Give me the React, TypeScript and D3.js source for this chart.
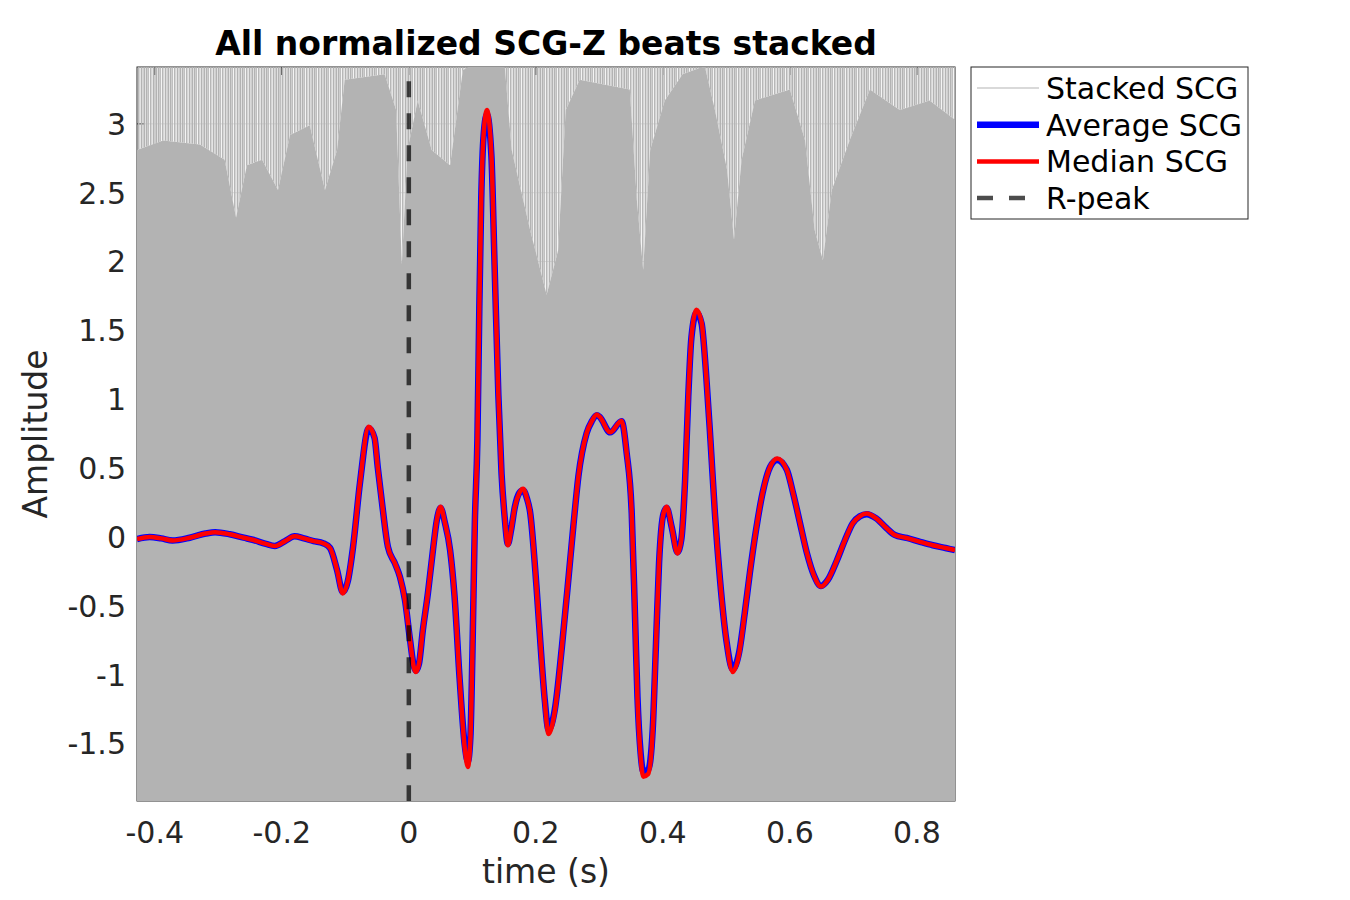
import { area, curveLinear, curveMonotoneX, line, scaleLinear } from "d3";

const W = 1350;
const H = 900;
const M = { top: 67, right: 395, bottom: 99, left: 137 };

// time axis of the traced average / median beat (s)
const beatTime = [
  -0.428, -0.408, -0.39, -0.372, -0.345, -0.32, -0.305, -0.282, -0.26, -0.246,
  -0.225, -0.211, -0.195, -0.18, -0.165, -0.15, -0.135, -0.124, -0.113, -0.104,
  -0.096, -0.088, -0.077, -0.063, -0.054, -0.049, -0.041, -0.033, -0.022, -0.014,
  -0.006, 0.002, 0.008, 0.011, 0.016, 0.022, 0.03, 0.038, 0.044, 0.05,
  0.057, 0.065, 0.072, 0.08, 0.088, 0.093, 0.097, 0.1, 0.104, 0.108,
  0.111, 0.114, 0.118, 0.123, 0.13, 0.135, 0.141, 0.146, 0.151, 0.156,
  0.161, 0.167, 0.174, 0.18, 0.186, 0.191, 0.201, 0.209, 0.214, 0.22,
  0.23, 0.241, 0.254, 0.259, 0.267, 0.28, 0.288, 0.296, 0.301, 0.317,
  0.335, 0.343, 0.351, 0.356, 0.36, 0.365, 0.369, 0.377, 0.384, 0.389,
  0.394, 0.401, 0.406, 0.414, 0.423, 0.429, 0.435, 0.44, 0.445, 0.453,
  0.461, 0.468, 0.475, 0.482, 0.49, 0.5, 0.51, 0.52, 0.529, 0.537,
  0.547, 0.557, 0.569, 0.58, 0.595, 0.605, 0.616, 0.627, 0.638, 0.649,
  0.66, 0.674, 0.687, 0.699, 0.71, 0.721, 0.736, 0.752, 0.765, 0.784,
  0.805, 0.825, 0.845, 0.86,
];

const averageScg = [
  -0.015, 0.0, -0.01, -0.025, -0.005, 0.025, 0.035, 0.02, -0.005, -0.02,
  -0.05, -0.065, -0.03, 0.005, -0.01, -0.03, -0.045, -0.08, -0.24, -0.4,
  -0.32, -0.08, 0.39, 0.79, 0.72, 0.51, 0.2, -0.07, -0.19, -0.29,
  -0.46, -0.75, -0.94, -0.97, -0.92, -0.68, -0.41, -0.095, 0.12, 0.21,
  0.1, -0.095, -0.43, -1.03, -1.51, -1.63, -1.45, -0.88, 0.11, 0.71,
  1.66, 2.45, 2.93, 3.07, 2.77, 1.98, 1.03, 0.46, 0.14, -0.05,
  0.05, 0.22, 0.32, 0.34, 0.28, 0.18, -0.36, -0.89, -1.18, -1.4,
  -1.25, -0.8, -0.17, 0.075, 0.44, 0.755, 0.84, 0.885, 0.87, 0.76,
  0.84, 0.61, 0.17, -0.55, -1.16, -1.57, -1.7, -1.69, -1.4, -0.8,
  -0.19, 0.17, 0.21, 0.07, -0.11, -0.02, 0.41, 1.02, 1.45, 1.63,
  1.55, 1.19, 0.7, 0.17, -0.31, -0.75, -0.96, -0.84, -0.55, -0.26,
  0.06, 0.32, 0.51, 0.56, 0.49, 0.32, 0.1, -0.12, -0.28, -0.355,
  -0.31, -0.17, -0.02, 0.1, 0.15, 0.165, 0.135, 0.065, 0.015, -0.007,
  -0.035, -0.06, -0.08, -0.095,
];

const medianScg = [
  -0.015, 0.0, -0.01, -0.025, -0.005, 0.025, 0.035, 0.02, -0.005, -0.02,
  -0.05, -0.065, -0.03, 0.005, -0.01, -0.03, -0.045, -0.08, -0.24, -0.41,
  -0.32, -0.08, 0.39, 0.8, 0.72, 0.51, 0.2, -0.07, -0.19, -0.29,
  -0.46, -0.75, -0.95, -0.98, -0.92, -0.68, -0.41, -0.095, 0.12, 0.22,
  0.1, -0.095, -0.43, -1.03, -1.53, -1.67, -1.46, -0.88, 0.11, 0.71,
  1.66, 2.45, 2.94, 3.1, 2.78, 1.98, 1.03, 0.46, 0.14, -0.06,
  0.05, 0.22, 0.32, 0.35, 0.28, 0.18, -0.36, -0.89, -1.19, -1.43,
  -1.26, -0.8, -0.17, 0.075, 0.44, 0.755, 0.84, 0.89, 0.87, 0.76,
  0.845, 0.61, 0.17, -0.55, -1.17, -1.59, -1.74, -1.72, -1.41, -0.8,
  -0.19, 0.17, 0.22, 0.07, -0.12, -0.02, 0.41, 1.02, 1.45, 1.65,
  1.56, 1.19, 0.7, 0.17, -0.31, -0.75, -0.98, -0.85, -0.55, -0.26,
  0.06, 0.32, 0.51, 0.57, 0.49, 0.32, 0.1, -0.12, -0.28, -0.36,
  -0.31, -0.17, -0.02, 0.1, 0.15, 0.17, 0.135, 0.065, 0.015, -0.007,
  -0.035, -0.06, -0.08, -0.095,
];

// where the stack of individual beats stops being solid grey (s, amplitude)
const stackTime = [
  -0.428, -0.387, -0.329, -0.29, -0.272, -0.255, -0.231, -0.206, -0.187, -0.156,
  -0.132, -0.113, -0.101, -0.038, -0.02, -0.011, -0.002, 0.014, 0.036, 0.065,
  0.085, 0.096, 0.151, 0.162, 0.191, 0.217, 0.235, 0.247, 0.269, 0.348,
  0.359, 0.369, 0.38, 0.403, 0.431, 0.466, 0.482, 0.501, 0.512, 0.524,
  0.545, 0.6, 0.624, 0.639, 0.652, 0.666, 0.694, 0.726, 0.773, 0.82, 0.86,
];
const stackSolidTop = [
  2.81, 2.88, 2.85, 2.74, 2.32, 2.7, 2.74, 2.52, 2.92, 2.99,
  2.52, 2.81, 3.32, 3.36, 3.1, 1.98, 2.81, 3.17, 2.81, 2.7,
  3.39, 3.42, 3.42, 2.81, 2.23, 1.76, 2.08, 3.1, 3.32, 3.25,
  2.45, 1.94, 2.81, 3.17, 3.36, 3.42, 3.1, 2.67, 2.16, 2.74,
  3.17, 3.25, 2.88, 2.23, 2.01, 2.52, 2.88, 3.25, 3.1, 3.17, 3.03,
];

const xDomain = [-0.428, 0.86];
const yDomain = [-1.917, 3.413];
const xTicks = [-0.4, -0.2, 0, 0.2, 0.4, 0.6, 0.8];
const yTicks = [-1.5, -1, -0.5, 0, 0.5, 1, 1.5, 2, 2.5, 3];
const rPeakTime = 0;
const rPeakSpan = [-1.917, 3.31];

const legendItems = ["Stacked SCG", "Average SCG", "Median SCG", "R-peak"];

const INK = "#262626";
const STACK = "#b3b3b3";
const FONT = "'DejaVu Sans', sans-serif";

// irregular comb of thin grey beat traces above the solid part of the stack
const combOffsets = [0.7, 2.5, 4.1, 6.4, 7.9, 9.7, 11.3];
const combWidths = [1.4, 1.0, 1.5, 1.1, 0.9, 1.4, 0.8];

export default function App() {
  const x = scaleLinear().domain(xDomain).range([M.left, W - M.right]);
  const y = scaleLinear().domain(yDomain).range([H - M.bottom, M.top]);
  const x0 = M.left;
  const x1 = W - M.right;
  const y0 = M.top;
  const y1 = H - M.bottom;

  const beat = (vals: number[]) =>
    line<number>()
      .x((_, i) => x(beatTime[i]))
      .y((v) => y(v))
      .curve(curveMonotoneX)(vals) ?? "";

  const solidStack =
    area<number>()
      .x((_, i) => x(stackTime[i]))
      .y0(() => y(yDomain[0]))
      .y1((v) => y(v))
      .curve(curveLinear)(stackSolidTop) ?? "";
  const sparseStack =
    area<number>()
      .x((_, i) => x(stackTime[i]))
      .y0(() => y(yDomain[1]))
      .y1((v) => y(v))
      .curve(curveLinear)(stackSolidTop) ?? "";

  const legendX = 971;
  const legendY = 67;
  const rowY = (i: number) => legendY + 21 + i * 36.7;

  return (
    <svg
      width={W}
      height={H}
      viewBox={`0 0 ${W} ${H}`}
      style={{ position: "absolute", left: 0, top: 0, background: "#fff" }}
      fontFamily={FONT}
    >
      <defs>
        <clipPath id="plot">
          <rect x={x0} y={y0} width={x1 - x0} height={y1 - y0} />
        </clipPath>
        <pattern id="beats" width={12} height={10} patternUnits="userSpaceOnUse">
          {combOffsets.map((o, i) => (
            <line key={o} x1={o} x2={o} y1={0} y2={10} stroke={STACK} strokeWidth={combWidths[i]} />
          ))}
        </pattern>
      </defs>

      {/* grid */}
      {xTicks.map((t) => (
        <line key={`gx${t}`} x1={x(t)} x2={x(t)} y1={y0} y2={y1} stroke="#dedede" />
      ))}
      {yTicks.map((t) => (
        <line key={`gy${t}`} x1={x0} x2={x1} y1={y(t)} y2={y(t)} stroke="#dedede" />
      ))}

      {/* axes box and inward ticks */}
      <rect x={x0} y={y0} width={x1 - x0} height={y1 - y0} fill="none" stroke={INK} />
      {xTicks.map((t) => (
        <g key={`tx${t}`} stroke={INK}>
          <line x1={x(t)} x2={x(t)} y1={y1} y2={y1 - 8} />
          <line x1={x(t)} x2={x(t)} y1={y0} y2={y0 + 8} />
        </g>
      ))}
      {yTicks.map((t) => (
        <g key={`ty${t}`} stroke={INK}>
          <line x1={x0} x2={x0 + 8} y1={y(t)} y2={y(t)} />
          <line x1={x1} x2={x1 - 8} y1={y(t)} y2={y(t)} />
        </g>
      ))}

      <g clipPath="url(#plot)">
        <path d={sparseStack} fill="url(#beats)" />
        <path d={solidStack} fill={STACK} />
        <path d={beat(averageScg)} fill="none" stroke="#0000ff" strokeWidth={6.5} strokeLinejoin="round" />
        <path d={beat(medianScg)} fill="none" stroke="#ff0000" strokeWidth={4.5} strokeLinejoin="round" />
        <line
          x1={x(rPeakTime)}
          x2={x(rPeakTime)}
          y1={y(rPeakSpan[1])}
          y2={y(rPeakSpan[0])}
          stroke="#000"
          strokeOpacity={0.7}
          strokeWidth={4.5}
          strokeDasharray="16 16"
        />
      </g>

      {/* tick labels */}
      {xTicks.map((t) => (
        <text key={`lx${t}`} x={x(t)} y={843} textAnchor="middle" fontSize={30} fill={INK}>
          {t}
        </text>
      ))}
      {yTicks.map((t) => (
        <text key={`ly${t}`} x={126} y={y(t)} dy="0.36em" textAnchor="end" fontSize={30} fill={INK}>
          {t}
        </text>
      ))}

      <text x={(x0 + x1) / 2} y={883} textAnchor="middle" fontSize={33} fill={INK}>
        time (s)
      </text>
      <text
        transform={`translate(47, ${(y0 + y1) / 2}) rotate(-90)`}
        textAnchor="middle"
        fontSize={33}
        fill={INK}
      >
        Amplitude
      </text>
      <text x={(x0 + x1) / 2} y={55} textAnchor="middle" fontSize={33} fontWeight="bold" fill="#000">
        All normalized SCG-Z beats stacked
      </text>

      {/* legend */}
      <rect x={legendX} y={legendY} width={277} height={152} fill="#fff" stroke={INK} />
      {legendItems.map((name, i) => {
        const cy = rowY(i);
        const sample =
          i === 0 ? (
            <line x1={977} x2={1039} y1={cy} y2={cy} stroke={STACK} strokeWidth={1} />
          ) : i === 1 ? (
            <line x1={977} x2={1039} y1={cy} y2={cy} stroke="#0000ff" strokeWidth={6.5} />
          ) : i === 2 ? (
            <line x1={977} x2={1039} y1={cy} y2={cy} stroke="#ff0000" strokeWidth={4.5} />
          ) : (
            <line
              x1={977}
              x2={1039}
              y1={cy}
              y2={cy}
              stroke="#000"
              strokeOpacity={0.7}
              strokeWidth={4.5}
              strokeDasharray="16 16"
            />
          );
        return (
          <g key={name}>
            {sample}
            <text x={1046} y={cy} dy="0.36em" fontSize={30} fill="#000">
              {name}
            </text>
          </g>
        );
      })}
    </svg>
  );
}
